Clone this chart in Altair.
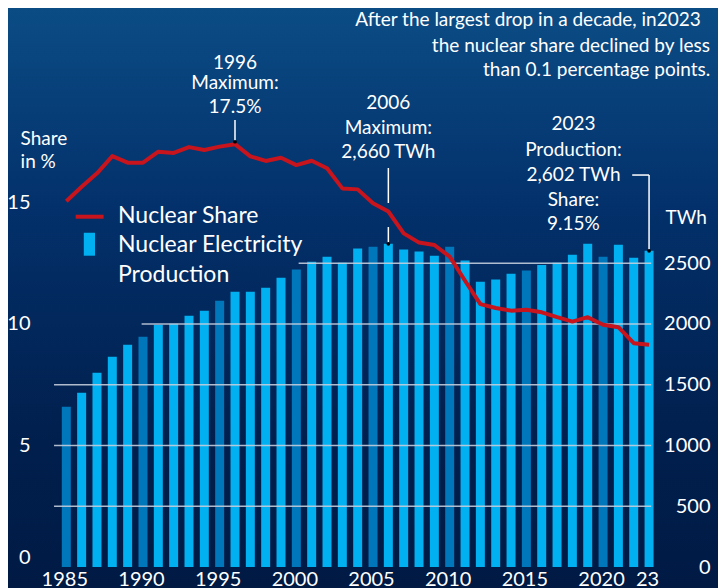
import altair as alt
import pandas as pd

# ---------------- data ----------------
years = list(range(1985, 2024))
production_twh = [1318, 1434, 1598, 1730, 1829, 1895, 1994, 2002, 2068, 2109,
                  2191, 2265, 2265, 2298, 2380, 2449, 2512, 2553, 2504, 2622,
                  2636, 2660, 2614, 2597, 2562, 2636, 2523, 2348, 2367, 2413,
                  2441, 2485, 2504, 2570, 2660, 2553, 2652, 2545, 2602]
share_pct = [15.05, 15.65, 16.2, 16.91, 16.64, 16.64, 17.09, 17.04, 17.28, 17.16,
             17.3, 17.4, 16.9, 16.71, 16.84, 16.54, 16.72, 16.41, 15.58, 15.54,
             14.97, 14.63, 13.73, 13.35, 13.25, 12.77, 11.78, 10.82, 10.66, 10.55,
             10.59, 10.48, 10.28, 10.1, 10.28, 9.97, 9.87, 9.21, 9.15]

x_tick_values = [1985, 1990, 1995, 2000, 2005, 2010, 2015, 2020, 2023]
left_tick_values = [0, 5, 10, 15]
right_tick_values = [0, 500, 1000, 1500, 2000, 2500]

grid_values = [500, 1000, 1500, 2000, 2500]
grid_start = [1984.2, 1984.2, 1984.2, 1989.91, 2000.15]

# centred annotation texts (anchor: x in years, y in TWh-scale units)
ann_text = ["1996", "Maximum:", "17.5%",
            "2006", "Maximum:", "2,660 TWh",
            "2023", "Production:", "2,602 TWh", "Share:", "9.15%",
            "TWh"]
ann_x = [1996, 1996, 1996,
         2006, 2006, 2006,
         2018.07, 2018.07, 2018.07, 2018.07, 2018.07,
         2025.42]
ann_y = [4152, 3981, 3782,
         3823, 3617, 3414,
         3642, 3436, 3230, 3021, 2819,
         2872]

# left-aligned axis title
share_title = ["Share", "in %"]
share_title_x = [1982.02, 1982.02]
share_title_y = [3525, 3333]

note_text = ["After the largest drop in a decade, in2023",
             "the nuclear share declined by less",
             "than 0.1 percentage points."]
note_x = [2026.37, 2026.97, 2026.99]
note_y = [4502, 4292, 4091]

legend_text = ["Nuclear Share", "Nuclear Electricity", "Production"]
legend_x = [1988.37, 1988.37, 1988.37]
legend_y = [2885, 2650, 2407]

# leader lines (x, x2, y, y2 in TWh-scale units)
lead_x = [1996, 2006, 2006, 2023, 2021.9]
lead_x2 = [1996, 2006, 2006, 2023, 2023]
lead_y = [3500, 3284, 2798, 2602, 3226]
lead_y2 = [3680, 2996, 2660, 3226, 3226]

dot_x = [1996, 2006, 2023]
dot_y = [3500, 2660, 2602]

# ---------------- frames ----------------
df = pd.DataFrame({"year": years, "twh": production_twh, "share": share_pct})
grid_df = pd.DataFrame({"v": grid_values, "x0": grid_start, "x1": [2023.14] * len(grid_values)})
ann_df = pd.DataFrame({"x": ann_x, "y": ann_y, "t": ann_text})
st_df = pd.DataFrame({"x": share_title_x, "y": share_title_y, "t": share_title})
note_df = pd.DataFrame({"x": note_x, "y": note_y, "t": note_text})
leg_df = pd.DataFrame({"x": legend_x, "y": legend_y, "t": legend_text})
lead_df = pd.DataFrame({"x": lead_x, "x2": lead_x2, "y": lead_y, "y2": lead_y2})
dot_df = pd.DataFrame({"x": dot_x, "y": dot_y})
leg_line_df = pd.DataFrame({"x": [1985.61], "x2": [1987.43], "y": [2883]})
leg_rect_df = pd.DataFrame({"x": [1986.14], "x2": [1986.87], "y": [2562], "y2": [2751]})

FONT = "Lato"
W, H = 609, 559
PAD = {"left": 41, "top": 0, "right": 60, "bottom": 21}
TW_DOMAIN = [0, 4600.8]
SH_DOMAIN = [0, 23.004]

xscale = alt.Scale(domain=[1984.198, 2023.257], nice=False, zero=False)
yscale = alt.Scale(domain=TW_DOMAIN, nice=False, zero=False)
sscale = alt.Scale(domain=SH_DOMAIN, nice=False, zero=False)

X_AXIS = alt.Axis(values=x_tick_values, orient="bottom", zindex=2, title=None,
                  labelExpr="datum.value == 2023 ? '23' : datum.value",
                  domain=False, ticks=False, tickSize=0, grid=False,
                  labelFlush=False, labelPadding=2, labelOffset=-2,
                  labelFontSize=20, labelColor="white", labelFont=FONT,
                  labelBaseline="top")


def X(field):
    return alt.X(field, type="quantitative", scale=xscale, axis=X_AXIS, title=None)


Y_noaxis = alt.Y("y:Q", scale=yscale, axis=None)

background = alt.Chart(pd.DataFrame({"d": [0]})).mark_rect(
    color=alt.Gradient(
        gradient="linear",
        stops=[alt.GradientStop(color="#0b4c85", offset=0),
               alt.GradientStop(color="#03306a", offset=0.35),
               alt.GradientStop(color="#011f4d", offset=0.75),
               alt.GradientStop(color="#001a44", offset=1)],
        x1=0, x2=0, y1=0, y2=1),
).encode(
    x=alt.value(-PAD["left"]), x2=alt.value(W + PAD["right"]),
    y=alt.value(-PAD["top"]), y2=alt.value(H + PAD["bottom"]),
)

bars = alt.Chart(df).mark_bar(size=9).encode(
    x=X("year"),
    y=alt.Y("twh:Q", scale=yscale, title=None,
            axis=alt.Axis(values=right_tick_values, orient="right", zindex=2,
                          format="d",
                          domain=False, ticks=False, tickSize=0, grid=False,
                          labelAlign="right", labelPadding=52, labelFlush=False,
                          labelFontSize=20, labelColor="white", labelFont=FONT)),
    color=alt.condition("datum.year % 5 == 0", alt.value("#0077bb"), alt.value("#00b0f0")),
)

grid = alt.Chart(grid_df).mark_rule(color="#c3cddb", strokeWidth=1.5, opacity=0.9).encode(
    x=X("x0"),
    x2="x1:Q",
    y=alt.Y("v:Q", scale=yscale, axis=None),
)

line = alt.Chart(df).mark_line(color="#c8141c", strokeWidth=4, strokeJoin="round").encode(
    x=X("year"),
    y=alt.Y("share:Q", scale=sscale, title=None,
            axis=alt.Axis(values=left_tick_values, orient="left", zindex=2,
                          domain=False, ticks=False, tickSize=0, grid=False,
                          labelPadding=19, labelFlush=True,
                          labelFontSize=20, labelColor="white", labelFont=FONT)),
)

leads = alt.Chart(lead_df).mark_rule(color="white", strokeWidth=1.5).encode(
    x=X("x"), x2="x2:Q", y=Y_noaxis, y2="y2:Q",
)

dots = alt.Chart(dot_df).mark_point(filled=True, color="black", size=14, opacity=1).encode(
    x=X("x"), y=Y_noaxis,
)

ann = alt.Chart(ann_df).mark_text(color="white", font=FONT, fontSize=19,
                                    baseline="middle", align="center").encode(
    x=X("x"), y=Y_noaxis, text="t:N",
)

share_t = alt.Chart(st_df).mark_text(color="white", font=FONT, fontSize=19,
                                       baseline="middle", align="left").encode(
    x=X("x"), y=Y_noaxis, text="t:N",
)

notes = alt.Chart(note_df).mark_text(color="white", font=FONT, fontSize=19,
                                       baseline="middle", align="right").encode(
    x=X("x"), y=Y_noaxis, text="t:N",
)

leg_line = alt.Chart(leg_line_df).mark_rule(color="#c8141c", strokeWidth=4).encode(
    x=X("x"), x2="x2:Q", y=Y_noaxis,
)
leg_rect = alt.Chart(leg_rect_df).mark_rect(color="#00b0f0").encode(
    x=X("x"), x2="x2:Q", y=Y_noaxis, y2="y2:Q",
)
leg_text = alt.Chart(leg_df).mark_text(color="white", font=FONT, fontSize=23,
                                         baseline="middle", align="left").encode(
    x=X("x"), y=Y_noaxis, text="t:N",
)

chart = alt.layer(
    background, bars, grid, line, leads, dots, ann, share_t, notes,
    leg_line, leg_rect, leg_text
).resolve_scale(y="independent").properties(
    width=W, height=H,
    autosize=alt.AutoSizeParams(type="none"),
    padding=PAD,
    background="#001a44",
).configure_view(stroke=None)

chart.save("out.html", embed_options={"renderer": "svg", "actions": False})
